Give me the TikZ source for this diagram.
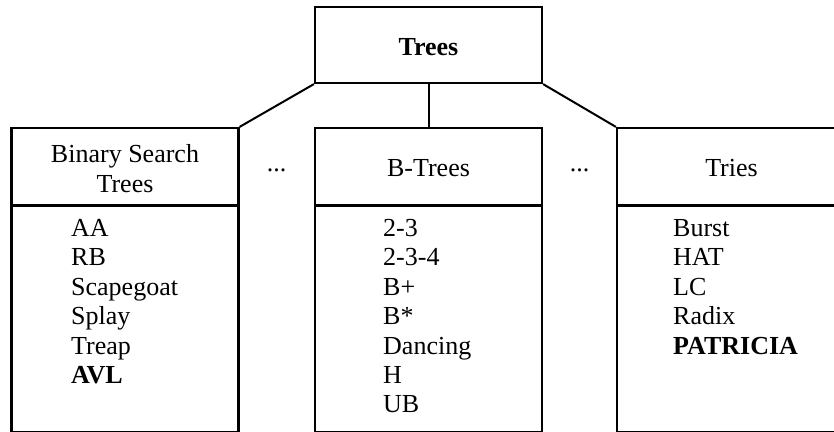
\documentclass[tikz,border=0pt]{standalone}
\usepackage{fontspec}
\setmainfont{Liberation Serif}
\begin{document}
\begin{tikzpicture}[x=1pt,y=-1pt,
  txt/.style={font=\fontsize{26}{30}\selectfont, inner sep=0pt},
  boldtxt/.style={txt, font=\fontsize{26}{30}\selectfont\bfseries},
  box/.style={draw, line width=2.2pt, minimum width=227pt, inner sep=0pt},
  headbox/.style={box, minimum height=77pt},
  listbox/.style={box, minimum height=226pt, anchor=north},
  conn/.style={line width=2pt},
  label/.style={txt, anchor=base},
  item/.style={txt, anchor=base west}
]
\useasboundingbox (0,0) rectangle (834,431);
\clip (0,0) rectangle (834,431);

% root of the taxonomy
\node[box, minimum height=76pt] (root) at (428.5,45) {};
\node[boldtxt, anchor=base] (roottxt) at (428.5,55) {Trees};

% the three families: header cell above a list cell
\node[listbox] (bstl) at (125,205) {};
\node[headbox] (bsth) at (125,166.5) {};
\node[listbox] (btl) at (428.5,205) {};
\node[headbox] (bth) at (428.5,166.5) {};
\node[listbox] (trl) at (730.5,205) {};
\node[headbox] (trh) at (730.5,166.5) {};

% family names
\node[label] (bsttxt1) at (125,162.5) {Binary Search};
\node[label] (bsttxt2) at (125,192) {Trees};
\node[label] (bttxt) at (428.5,176) {B-Trees};
\node[label] (trtxt) at (731.5,176) {Tries};

% ellipses between the families
\node[label] (gap1) at (276.5,171) {...};
\node[label] (gap2) at (579.5,171) {...};

% connectors from the root
\draw[conn] (root.south west) -- (bsth.north east);
\draw[conn] (root.south) -- (bth.north);
\draw[conn] (root.south east) -- (trh.north west);

% binary search trees
\node[item] (aa) at (71,236.5) {AA};
\node[item] (rb) at (71,265.9) {RB};
\node[item] (scape) at (71,295.3) {Scapegoat};
\node[item] (splay) at (71,324.7) {Splay};
\node[item] (treap) at (71,354.1) {Treap};
\node[item, boldtxt] (avl) at (71,383.5) {AVL};

% B-trees
\node[item] (b23) at (383,236.5) {2-3};
\node[item] (b234) at (383,265.9) {2-3-4};
\node[item] (bplus) at (383,295.3) {B+};
\node[item] (bstar) at (383,324.7) {B*};
\node[item] (dancing) at (383,354.1) {Dancing};
\node[item] (htree) at (383,383.5) {H};
\node[item] (ub) at (383,412.9) {UB};

% tries
\node[item] (burst) at (673,236.5) {Burst};
\node[item] (hat) at (673,265.9) {HAT};
\node[item] (lc) at (673,295.3) {LC};
\node[item] (radix) at (673,324.7) {Radix};
\node[item, boldtxt] (patricia) at (673,354.1) {PATRICIA};
\end{tikzpicture}
\end{document}
